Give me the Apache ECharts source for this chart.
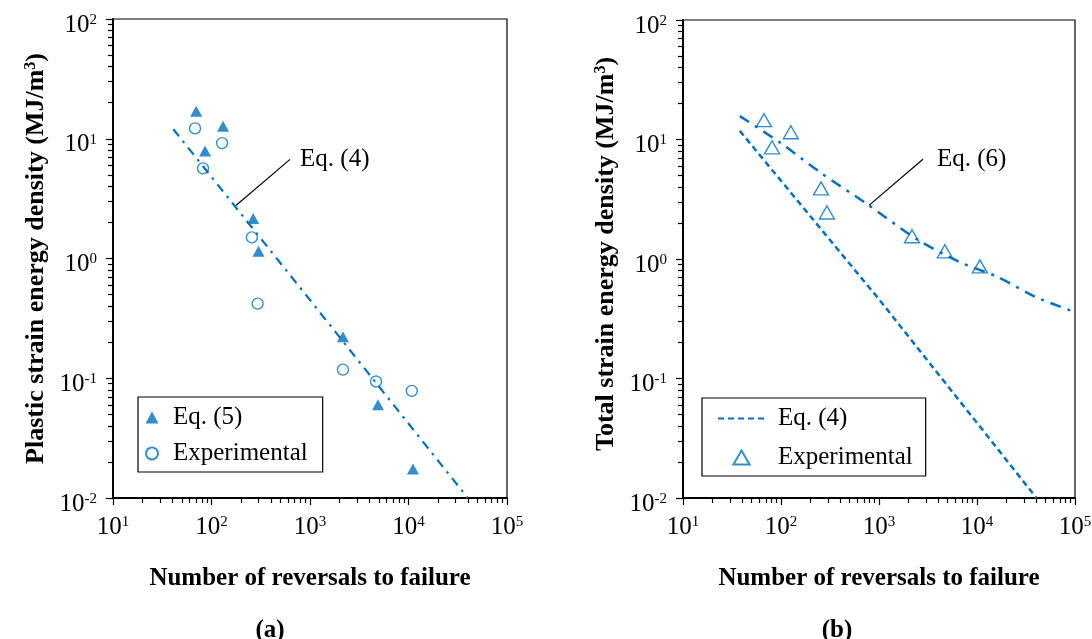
<!DOCTYPE html>
<html>
<head>
<meta charset="utf-8">
<script src="https://cdn.jsdelivr.net/npm/echarts@6/dist/echarts.min.js"></script>
<style>
  html, body { margin: 0; padding: 0; background: #fff; }
  #chart { width: 1092px; height: 639px; }
</style>
</head>
<body>
<div id="chart"></div>
<script>
// tick exponents (labels are 10^n)
var xExp = [1, 2, 3, 4, 5];
var yExp = [-2, -1, 0, 1, 2];

// (a) plastic strain energy density
var eq5A = [[70, 17], [131, 12.7], [86, 7.9], [265, 2.16], [300, 1.15], [2160, 0.222], [4900, 0.060], [11100, 0.0175]];
var expA = [[68, 12.2], [128, 9.2], [82, 5.66], [257, 1.5], [294, 0.42], [2160, 0.118], [4680, 0.094], [10800, 0.0785]];
var eq4A = [[41, 12], [1000, 0.45], [40000, 0.01]];

// (b) total strain energy density
var expB = [[67, 14.5], [126, 11.5], [81, 8.6], [256, 3.9], [294, 2.45], [2170, 1.55], [4700, 1.16], [10700, 0.867]];
var eq4B = [[38, 11.8], [1000, 0.46], [40500, 0.01]];
var eq6B = [[38, 15.7], [100, 9.3], [252, 5.3], [760, 2.87], [2450, 1.46], [6700, 0.94], [15800, 0.714], [40500, 0.478], [100000, 0.36]];

// annotation leaders (data coords)
var leaderA = [[177, 2.77], [627, 6.73]];
var leaderB = [[790, 2.81], [2810, 6.84]];

var blue = "#0070C0";
var font = "Liberation Serif";
var triIcon = "path://M6,0 L12,11 L0,11 Z";

function expLabel(list) {
  return function (v) {
    var e = Math.round(Math.log10(v));
    if (list.indexOf(e) < 0) return "";
    return "{b|10}{s|" + e + "}";
  };
}
var tickRich = {
  b: { fontSize: 25, fontFamily: font, color: "#000", lineHeight: 25, verticalAlign: "bottom" },
  s: { fontSize: 15, fontFamily: font, color: "#000", lineHeight: 14, verticalAlign: "top" }
};

function xAxisOf(i) {
  return {
    type: "log", logBase: 10, gridIndex: i, min: 10, max: 100000,
    name: "Number of reversals to failure",
    nameLocation: "middle", nameGap: 68,
    nameTextStyle: { fontFamily: font, fontSize: 25, fontWeight: "bold", color: "#000" },
    axisLine: { show: true, onZero: false, lineStyle: { color: "#000", width: 2 } },
    axisTick: { show: true, inside: false, length: 7, lineStyle: { color: "#000", width: 1.2 } },
    minorTick: { show: true, splitNumber: 9, length: 5, lineStyle: { color: "#000", width: 1.2 } },
    splitLine: { show: false },
    minorSplitLine: { show: false },
    axisLabel: { margin: 17, interval: 0, showMinLabel: true, showMaxLabel: true,
      formatter: expLabel(xExp), rich: tickRich }
  };
}
function yAxisOf(i, title, pad) {
  return {
    type: "log", logBase: 10, gridIndex: i, min: 0.01, max: 100,
    name: title,
    nameLocation: "middle", nameGap: 64, nameRotate: 90,
    nameTextStyle: { fontFamily: font, fontSize: 26, fontWeight: "bold", color: "#000", padding: pad,
      rich: { sup: { fontFamily: font, fontSize: 16, fontWeight: "bold", color: "#000", verticalAlign: "top", lineHeight: 16 } } },
    axisLine: { show: true, onZero: false, lineStyle: { color: "#000", width: 2 } },
    axisTick: { show: true, inside: false, length: 7, lineStyle: { color: "#000", width: 1.2 } },
    minorTick: { show: true, splitNumber: 9, length: 5, lineStyle: { color: "#000", width: 1.2 } },
    splitLine: { show: false },
    minorSplitLine: { show: false },
    axisLabel: { margin: 16, interval: 0, showMinLabel: true, showMaxLabel: true,
      padding: [12, 0, 0, 0], formatter: expLabel(yExp), rich: tickRich }
  };
}

function leader(name, i, data, text, gap) {
  return { name: name, type: "line", xAxisIndex: i, yAxisIndex: i, data: data,
    symbol: "none", silent: true, lineStyle: { color: "#000", width: 1.2 }, z: 1,
    endLabel: { show: true, formatter: text, distance: gap, color: "#000",
      fontFamily: font, fontSize: 25, opacity: 1 } };
}

var legendBase = {
  orient: "vertical", selectedMode: false,
  backgroundColor: "#fff", borderColor: "#000", borderWidth: 1.2, borderRadius: 0,
  formatter: function (n) { return n.replace(/ \[[ab]\]$/, ""); }
};

var option = {
  animation: false,
  backgroundColor: "#fff",
  title: [
    { text: "{p|(}{b|a}{p|)}", left: 265, top: 613, textAlign: "center",
      textStyle: { rich: {
        p: { fontFamily: font, fontSize: 25, color: "#000" },
        b: { fontFamily: font, fontSize: 25, fontWeight: "bold", color: "#000" } } } },
    { text: "{p|(}{b|b}{p|)}", left: 832, top: 613, textAlign: "center",
      textStyle: { rich: {
        p: { fontFamily: font, fontSize: 25, color: "#000" },
        b: { fontFamily: font, fontSize: 25, fontWeight: "bold", color: "#000" } } } }
  ],
  grid: [
    { left: 113, top: 19, width: 394, height: 479, show: true, borderColor: "#000", borderWidth: 1.2,
      backgroundColor: "rgba(0,0,0,0)", containLabel: false, outerBoundsMode: "none" },
    { left: 683, top: 20, width: 392, height: 478, show: true, borderColor: "#000", borderWidth: 1.2,
      backgroundColor: "rgba(0,0,0,0)", containLabel: false, outerBoundsMode: "none" }
  ],
  xAxis: [xAxisOf(0), xAxisOf(1)],
  yAxis: [
    yAxisOf(0, "Plastic strain energy density (MJ/m{sup|3})", [0, 0, 0, 0]),
    yAxisOf(1, "Total strain energy density (MJ/m{sup|3})", [0, 0, 0, 10])
  ],
  legend: [
    Object.assign({}, legendBase, {
      left: 138, top: 397, padding: [8, 15, 6, 7], itemWidth: 20, itemHeight: 12, itemGap: 11,
      textStyle: { fontFamily: font, fontSize: 25, color: "#000", padding: [0, 0, 0, 6] },
      data: [{ name: "Eq. (5)", icon: triIcon }, { name: "Experimental [a]" }]
    }),
    Object.assign({}, legendBase, {
      left: 702, top: 398, padding: [8, 13, 6, 15], itemWidth: 47, itemHeight: 14, itemGap: 14,
      textStyle: { fontFamily: font, fontSize: 25, color: "#000", padding: [0, 0, 0, 8] },
      data: [
        { name: "Eq. (4)", itemStyle: { color: "rgba(0,0,0,0)", borderWidth: 0, opacity: 0 } },
        { name: "Experimental", icon: "path://M7.5,0 L15,13 L0,13 Z" }
      ]
    })
  ],
  series: [
    { name: "Eq. (4) [a]", type: "line", xAxisIndex: 0, yAxisIndex: 0, data: eq4A, symbol: "none",
      lineStyle: { color: blue, width: 2.2, type: [9, 6, 2.5, 6] }, z: 2 },
    leader("leader [a]", 0, leaderA, "Eq. (4)", 10),
    { name: "Eq. (5)", type: "scatter", xAxisIndex: 0, yAxisIndex: 0, data: eq5A,
      symbol: "triangle", symbolSize: [12, 11], itemStyle: { color: blue }, z: 3 },
    { name: "Experimental [a]", type: "scatter", xAxisIndex: 0, yAxisIndex: 0, data: expA,
      symbol: "circle", symbolSize: 11,
      itemStyle: { color: "rgba(255,255,255,0)", borderColor: blue, borderWidth: 1.4 }, z: 3 },

    { name: "Eq. (4)", type: "line", xAxisIndex: 1, yAxisIndex: 1, data: eq4B, symbol: "none",
      lineStyle: { color: blue, width: 2.5, type: [6, 4] }, z: 2 },
    { name: "Eq. (6)", type: "line", xAxisIndex: 1, yAxisIndex: 1, data: eq6B, symbol: "none",
      smooth: 0.3, lineStyle: { color: blue, width: 2.5, type: [11, 7, 3, 7] }, z: 2 },
    leader("leader [b]", 1, leaderB, "Eq. (6)", 14),
    { name: "Experimental", type: "scatter", xAxisIndex: 1, yAxisIndex: 1, data: expB,
      symbol: "triangle", symbolSize: [15, 13],
      itemStyle: { color: "rgba(255,255,255,0)", borderColor: blue, borderWidth: 1.4 }, z: 3 }
  ]
};

var myChart = echarts.init(document.getElementById("chart"), null, { renderer: "canvas" });
myChart.setOption(option);
</script>
</body>
</html>
